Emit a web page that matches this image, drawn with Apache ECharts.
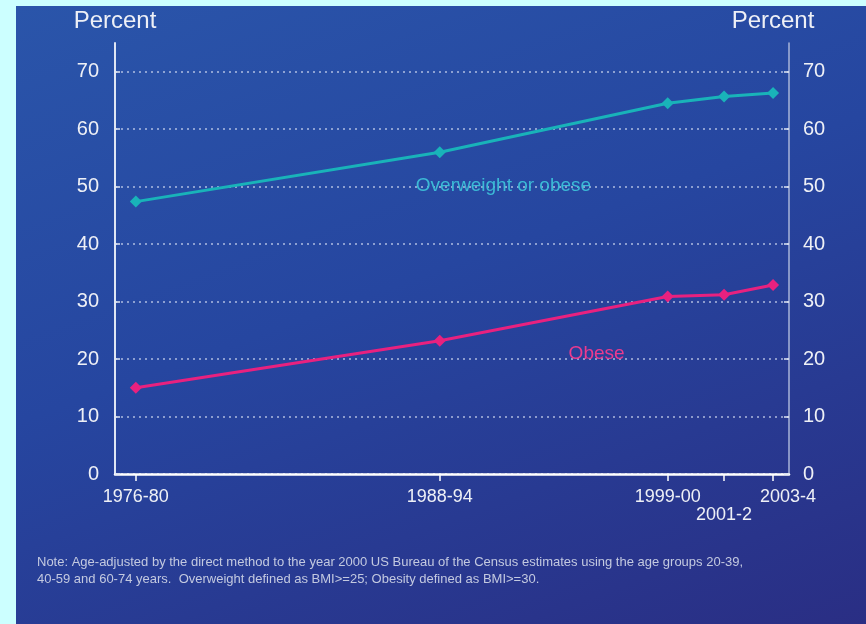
<!DOCTYPE html>
<html>
<head>
<meta charset="utf-8">
<script src="https://cdn.jsdelivr.net/npm/echarts@6/dist/echarts.min.js"></script>
<style>
  html, body { margin: 0; padding: 0; background: #ccffff; }
  #panel {
    position: absolute; left: 16px; top: 6px; width: 850px; height: 618px;
    background: linear-gradient(160deg, #2a55aa 0%, #2646a0 45%, #2a2e84 100%);
  }
  #chart { position: absolute; left: 0; top: 0; width: 866px; height: 624px; }
</style>
</head>
<body>
<div id="panel"></div>
<div id="chart"></div>
<script>
// survey periods and where they sit on the time axis
var periods = ['1976-80', '1988-94', '1999-00', '2001-2', '2003-4']
var periodPos = [1978, 1990.4, 1999.7, 2002, 2004]

var overweightOrObese = [47.4, 56.0, 64.5, 65.7, 66.3]
var obese = [15.0, 23.2, 30.9, 31.2, 32.9]

var yTicks = [0, 10, 20, 30, 40, 50, 60, 70]

var note = 'Note: Age-adjusted by the direct method to the year 2000 US Bureau of the Census estimates using the age groups 20-39,\n' +
    '40-59 and 60-74 years.  Overweight defined as BMI>=25; Obesity defined as BMI>=30.'

var font = 'Liberation Sans, Arial, sans-serif'

function pairs(vals) {
    return vals.map(function (v, i) { return [periodPos[i], v] })
}

function yAxis(pos) {
    var left = pos === 'left'
    return {
        type: 'value',
        position: pos,
        min: 0,
        max: 75,
        name: 'Percent',
        nameLocation: 'end',
        nameGap: 10,
        nameTextStyle: {
            color: '#eef0f6', fontSize: 24, fontFamily: font,
            padding: left ? [0, 0, 0, 0] : [0, 32, 0, 0]
        },
        axisLine: { show: true, lineStyle: { color: left ? '#dfe6f4' : '#a9b4d8', width: left ? 2 : 1.5 } },
        axisTick: { show: true, inside: true, length: 5, customValues: yTicks,
            lineStyle: { color: '#dfe6f4', width: 1.5 } },
        axisLabel: { customValues: yTicks, color: '#eef0f6', fontSize: 20, fontFamily: font,
            margin: left ? 16 : 14 },
        splitLine: { show: left, lineStyle: { color: 'rgba(220,228,245,0.75)', type: [2, 4], width: 1.5 } }
    }
}

// text label sitting on the chart at a data position
function lineLabel(text, color, coord) {
    return {
        symbol: 'circle',
        symbolSize: 1,
        itemStyle: { color: 'rgba(0,0,0,0)' },
        label: { show: true, position: 'inside', formatter: text, color: color, fontSize: 19, fontFamily: font },
        data: [{ coord: coord }]
    }
}

var myChart = echarts.init(document.getElementById('chart'))
var option = {
    backgroundColor: 'transparent',
    animation: false,
    grid: { left: 115, right: 77, top: 43, bottom: 150 },
    xAxis: {
        type: 'value',
        min: 1977.15,
        max: 2004.65,
        axisLine: { show: true, lineStyle: { color: '#ffffff', width: 2.5 } },
        axisTick: { show: true, length: 7, customValues: periodPos, lineStyle: { color: '#ffffff', width: 1.5 } },
        axisLabel: {
            customValues: periodPos,
            color: '#eef0f6', fontSize: 18, fontFamily: font, margin: 14,
            formatter: function (v) {
                var i = periodPos.indexOf(v)
                if (i === 3) return '\n' + periods[i]
                if (i === 4) return '{r|' + periods[i] + '}'
                return periods[i]
            },
            rich: { r: { color: '#eef0f6', fontSize: 18, fontFamily: font, padding: [0, 0, 0, 30] } }
        },
        splitLine: { show: false }
    },
    yAxis: [yAxis('left'), yAxis('right')],
    graphic: [{
        type: 'text',
        left: 37,
        top: 554,
        style: { text: note, fill: '#c3c9e0', fontSize: 13, fontFamily: font, lineHeight: 17 }
    }],
    series: [{
        name: 'Overweight or obese',
        type: 'line',
        data: pairs(overweightOrObese),
        symbol: 'diamond',
        symbolSize: 12,
        lineStyle: { color: '#19b3b9', width: 3 },
        itemStyle: { color: '#19b3b9' },
        markPoint: lineLabel('Overweight or obese', '#3cbad6', [1993.0, 50.1])
    }, {
        name: 'Obese',
        type: 'line',
        data: pairs(obese),
        symbol: 'diamond',
        symbolSize: 12,
        lineStyle: { color: '#e8217f', width: 3 },
        itemStyle: { color: '#e8217f' },
        markPoint: lineLabel('Obese', '#ec3a8e', [1996.8, 21.0])
    }]
}
myChart.setOption(option)
</script>
</body>
</html>
